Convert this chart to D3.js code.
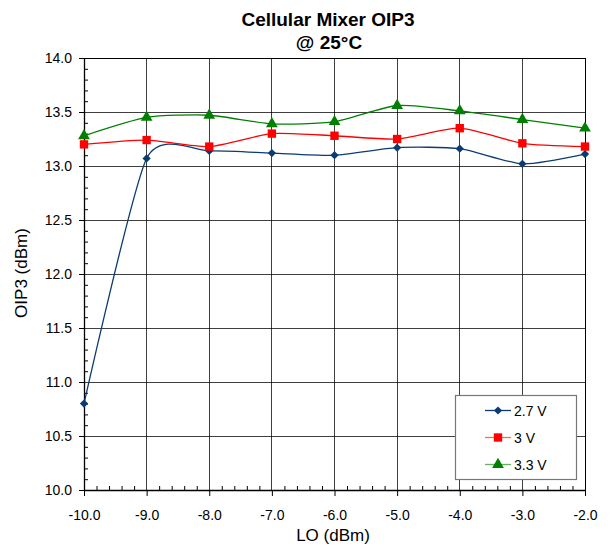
<!DOCTYPE html>
<html><head><meta charset="utf-8">
<script src="https://cdn.jsdelivr.net/npm/d3@7"></script>
<style>body{margin:0;background:#fff;} text{font-family:"Liberation Sans",Arial,sans-serif;}</style>
</head><body>
<svg id="chart" width="611" height="549"></svg>
<script>
const loValues = [-10, -9, -8, -7, -6, -5, -4, -3, -2];
const series27 = [10.80, 13.07, 13.14, 13.12, 13.10, 13.17, 13.16, 13.02, 13.11];
const series30 = [13.20, 13.24, 13.18, 13.30, 13.28, 13.25, 13.35, 13.21, 13.18];
const series33 = [13.28, 13.45, 13.47, 13.39, 13.41, 13.56, 13.51, 13.43, 13.35];
const seriesNames = ["2.7 V", "3 V", "3.3 V"];
const xTicks = [-10, -9, -8, -7, -6, -5, -4, -3, -2];
const yTicks = [10.0, 10.5, 11.0, 11.5, 12.0, 12.5, 13.0, 13.5, 14.0];

const svg = d3.select("#chart");
const L = 84, R = 585, T = 58, B = 490;
const x = d3.scaleLinear().domain([-10, -2]).range([L, R]);
const y = d3.scaleLinear().domain([10, 14]).range([B, T]);

// gridlines
const g = svg.append("g");
g.selectAll(".vg").data(xTicks).enter().append("line")
  .attr("x1", d => x(d)).attr("x2", d => x(d)).attr("y1", T).attr("y2", B)
  .attr("stroke", "#000").attr("stroke-width", 1).attr("shape-rendering", "crispEdges").attr("opacity", 0.75);
g.selectAll(".hg").data(yTicks).enter().append("line")
  .attr("x1", L).attr("x2", R).attr("y1", d => y(d)).attr("y2", d => y(d))
  .attr("stroke", "#000").attr("stroke-width", 1).attr("shape-rendering", "crispEdges").attr("opacity", 0.75);
svg.append("line").attr("x1", L).attr("x2", R).attr("y1", T).attr("y2", T).attr("stroke", "#000").attr("shape-rendering", "crispEdges");
svg.append("line").attr("x1", R).attr("x2", R).attr("y1", T).attr("y2", B).attr("stroke", "#000").attr("shape-rendering", "crispEdges");

// axes
const fmt = v => d3.format(".1f")(v).replace("\u2212", "-");
const xAxis = svg.append("g").attr("transform", `translate(0,${B})`)
  .call(d3.axisBottom(x).tickValues(xTicks).tickFormat(fmt).tickSizeInner(6).tickSizeOuter(0).tickPadding(14));
const yAxis = svg.append("g").attr("transform", `translate(${L},0)`)
  .call(d3.axisLeft(y).tickValues(yTicks).tickFormat(fmt).tickSizeInner(5).tickSizeOuter(0).tickPadding(7));
[xAxis, yAxis].forEach(a => {
  a.select(".domain").attr("stroke", "#000").attr("stroke-width", 1.3);
  a.selectAll("text").attr("font-size", 14).attr("fill", "#000").attr("font-family", '"Liberation Sans",Arial,sans-serif');
  a.selectAll(".tick line").attr("stroke", "#000");
});
// minor ticks (inward)
const xMinor = d3.range(-10, -2.0001, 0.2).filter(v => Math.abs(v - Math.round(v)) > 1e-6);
svg.append("g").attr("transform", `translate(0,${B})`)
  .call(d3.axisTop(x).tickValues(xMinor).tickSize(4).tickFormat(""))
  .call(a => a.select(".domain").remove());
const yMinor = d3.range(10, 14.0001, 0.1).filter(v => Math.abs(v * 2 - Math.round(v * 2)) > 1e-6);
svg.append("g").attr("transform", `translate(${L},0)`)
  .call(d3.axisRight(y).tickValues(yMinor).tickSize(4).tickFormat(""))
  .call(a => a.select(".domain").remove());

// series
const colors = ["#0b3b73", "#ff0000", "#008000"];
const allSeries = [series27, series30, series33];
const line = d3.line().x((d, i) => x(loValues[i])).y(d => y(d)).curve(d3.curveCardinal.tension(0.35));
const shapes = [d3.symbolSquare, d3.symbolSquare, d3.symbolTriangle];
const sizes = [34, 70, 60];
const rot = [45, 0, 0];
allSeries.forEach((s, k) => {
  svg.append("path").datum(s).attr("d", line).attr("fill", "none")
    .attr("stroke", colors[k]).attr("stroke-width", 1.3);
});
allSeries.forEach((s, k) => {
  svg.append("g").selectAll("path").data(s).enter().append("path")
    .attr("d", d3.symbol().type(shapes[k]).size(sizes[k]))
    .attr("transform", (d, i) => `translate(${x(loValues[i])},${y(d)}) rotate(${rot[k]})`)
    .attr("fill", colors[k]);
});

// legend
const lg = svg.append("g");
lg.append("rect").attr("x", 455.5).attr("y", 395.5).attr("width", 121).attr("height", 84)
  .attr("fill", "#fff").attr("stroke", "#777").attr("stroke-width", 1.2);
const legY = [410.5, 437.5, 464.5];
seriesNames.forEach((n, k) => {
  lg.append("line").attr("x1", 485).attr("x2", 511).attr("y1", legY[k]).attr("y2", legY[k])
    .attr("stroke", colors[k]).attr("stroke-width", 1.3).attr("opacity", k === 0 ? 1 : 0.6);
  lg.append("path").attr("d", d3.symbol().type(shapes[k]).size(sizes[k]))
    .attr("transform", `translate(498,${legY[k]}) rotate(${rot[k]})`).attr("fill", colors[k]);
  lg.append("text").attr("x", 514).attr("y", legY[k] + 5).attr("font-size", 14).text(n);
});

// titles
svg.append("text").attr("x", 328).attr("y", 26).attr("text-anchor", "middle")
  .attr("font-size", 19).attr("font-weight", "bold").text("Cellular Mixer OIP3");
svg.append("text").attr("x", 329).attr("y", 49).attr("text-anchor", "middle")
  .attr("font-size", 19).attr("font-weight", "bold").text("@ 25°C");
svg.append("text").attr("x", 333).attr("y", 541).attr("text-anchor", "middle")
  .attr("font-size", 17).text("LO (dBm)");
svg.append("text").attr("transform", "translate(27,273) rotate(-90)").attr("text-anchor", "middle")
  .attr("font-size", 17).text("OIP3 (dBm)");
</script>
</body></html>
